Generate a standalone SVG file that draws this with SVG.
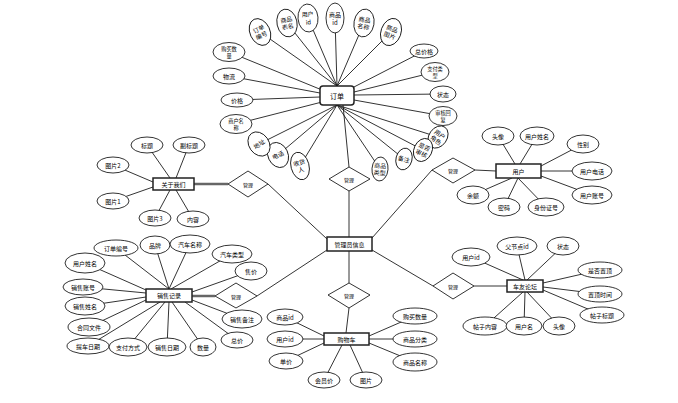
<svg xmlns="http://www.w3.org/2000/svg" width="678" height="403" viewBox="0 0 678 403">
<style>
.e{fill:#fff;stroke:#000;stroke-width:0.8}
.r{fill:#fff;stroke:#222;stroke-width:1.5}
.d{fill:#fff;stroke:#000;stroke-width:0.8}
.l{stroke:#000;stroke-width:0.8;fill:none}
.k{stroke:#666;stroke-width:2.5;fill:none}
.t{font-family:"Noto Sans CJK SC","Noto Sans",sans-serif;font-size:6px;text-anchor:middle;dominant-baseline:central;fill:#000}
.s{font-size:5.2px}
.b{font-size:7px}
</style>
<rect width="678" height="403" fill="#fff"/>
<g id="connectors">
<line class="l" x1="260" y1="32" x2="337" y2="86"/>
<line class="l" x1="287" y1="23" x2="337" y2="86"/>
<line class="l" x1="308" y1="18" x2="337" y2="86"/>
<line class="l" x1="335" y1="18" x2="337" y2="86"/>
<line class="l" x1="364" y1="23" x2="337" y2="86"/>
<line class="l" x1="391" y1="32" x2="337" y2="86"/>
<line class="l" x1="229" y1="52" x2="322" y2="90"/>
<line class="l" x1="229" y1="76" x2="320" y2="93"/>
<line class="l" x1="237" y1="100" x2="320" y2="97"/>
<line class="l" x1="236" y1="124" x2="322" y2="102"/>
<line class="l" x1="424" y1="51" x2="352" y2="88"/>
<line class="l" x1="435" y1="72" x2="354" y2="92"/>
<line class="l" x1="442" y1="94" x2="354" y2="95"/>
<line class="l" x1="443" y1="116" x2="354" y2="100"/>
<line class="l" x1="259" y1="144" x2="337" y2="105"/>
<line class="l" x1="278" y1="155" x2="337" y2="105"/>
<line class="l" x1="300" y1="166" x2="337" y2="105"/>
<line class="l" x1="380" y1="169" x2="337" y2="105"/>
<line class="l" x1="404" y1="159" x2="337" y2="105"/>
<line class="l" x1="423" y1="150" x2="337" y2="105"/>
<line class="l" x1="438" y1="137" x2="337" y2="105"/>
<line class="l" x1="343" y1="105" x2="349" y2="167"/>
<line class="l" x1="147" y1="145" x2="170" y2="178"/>
<line class="l" x1="189" y1="145" x2="176" y2="178"/>
<line class="l" x1="113" y1="165" x2="153" y2="182"/>
<line class="l" x1="113" y1="201" x2="153" y2="187"/>
<line class="l" x1="155" y1="218" x2="170" y2="190"/>
<line class="l" x1="193" y1="219" x2="176" y2="190"/>
<line class="k" x1="194" y1="184" x2="228" y2="184"/>
<line class="l" x1="498" y1="136" x2="515" y2="164"/>
<line class="l" x1="537" y1="136" x2="520" y2="164"/>
<line class="l" x1="583" y1="144" x2="541" y2="166"/>
<line class="l" x1="592" y1="171" x2="541" y2="171"/>
<line class="l" x1="592" y1="195" x2="541" y2="176"/>
<line class="l" x1="546" y1="207" x2="518" y2="178"/>
<line class="l" x1="504" y1="207" x2="518" y2="178"/>
<line class="l" x1="473" y1="195" x2="512" y2="178"/>
<line class="l" x1="475" y1="170" x2="496" y2="171"/>
<line class="l" x1="268" y1="184" x2="327" y2="239"/>
<line class="l" x1="432" y1="170" x2="372" y2="238"/>
<line class="l" x1="349" y1="191" x2="349" y2="237"/>
<line class="l" x1="349" y1="251" x2="349" y2="283"/>
<line class="l" x1="327" y1="250" x2="257" y2="296"/>
<line class="l" x1="372" y1="250" x2="433" y2="286"/>
<line class="l" x1="349" y1="308" x2="346" y2="333"/>
<line class="l" x1="285" y1="317" x2="324" y2="336"/>
<line class="l" x1="285" y1="339" x2="324" y2="339"/>
<line class="l" x1="286" y1="361" x2="324" y2="343"/>
<line class="l" x1="324" y1="380" x2="342" y2="345"/>
<line class="l" x1="366" y1="380" x2="350" y2="345"/>
<line class="l" x1="415" y1="316" x2="369" y2="336"/>
<line class="l" x1="415" y1="339" x2="369" y2="339"/>
<line class="l" x1="415" y1="362" x2="369" y2="343"/>
<line class="k" x1="192" y1="296" x2="215" y2="296"/>
<line class="l" x1="116" y1="248" x2="169" y2="289"/>
<line class="l" x1="155" y1="245" x2="169" y2="289"/>
<line class="l" x1="190" y1="244" x2="169" y2="289"/>
<line class="l" x1="232" y1="254" x2="171" y2="289"/>
<line class="l" x1="251" y1="271" x2="192" y2="292"/>
<line class="l" x1="85" y1="263" x2="146" y2="290"/>
<line class="l" x1="83" y1="287" x2="146" y2="293"/>
<line class="l" x1="85" y1="306" x2="146" y2="297"/>
<line class="l" x1="89" y1="327" x2="146" y2="300"/>
<line class="l" x1="88" y1="346" x2="160" y2="302"/>
<line class="l" x1="128" y1="347" x2="165" y2="302"/>
<line class="l" x1="167" y1="347" x2="169" y2="302"/>
<line class="l" x1="203" y1="347" x2="172" y2="302"/>
<line class="l" x1="237" y1="340" x2="185" y2="302"/>
<line class="l" x1="242" y1="319" x2="192" y2="300"/>
<line class="l" x1="474" y1="286" x2="507" y2="286"/>
<line class="l" x1="471" y1="257" x2="523" y2="280"/>
<line class="l" x1="517" y1="246" x2="525" y2="280"/>
<line class="l" x1="563" y1="246" x2="527" y2="280"/>
<line class="l" x1="600" y1="270" x2="543" y2="283"/>
<line class="l" x1="600" y1="294" x2="543" y2="287"/>
<line class="l" x1="602" y1="315" x2="543" y2="290"/>
<line class="l" x1="485" y1="326" x2="523" y2="292"/>
<line class="l" x1="524" y1="326" x2="525" y2="292"/>
<line class="l" x1="559" y1="326" x2="527" y2="292"/>
</g>

<g id="order">
<rect class="r" x="320" y="86" width="34" height="19" rx="3" stroke="#777"/>
<text class="t b" x="337" y="95.5">订单</text>
<g transform="translate(260,32) rotate(-25)"><ellipse class="e" rx="10" ry="14"/><text class="t" y="-3.5">订单</text><text class="t" y="3.5">编号</text></g>
<g transform="translate(287,23) rotate(-12)"><ellipse class="e" rx="10" ry="14"/><text class="t" y="-3.5">商品</text><text class="t" y="3.5">表名</text></g>
<g transform="translate(308,18) rotate(-5)"><ellipse class="e" rx="10" ry="14"/><text class="t" y="-4">用户</text><text class="t" y="4">id</text></g>
<g transform="translate(335,18)"><ellipse class="e" rx="9" ry="15"/><text class="t" y="-4">商品</text><text class="t" y="4">id</text></g>
<g transform="translate(364,23) rotate(10)"><ellipse class="e" rx="10" ry="14"/><text class="t" y="-3.5">商品</text><text class="t" y="3.5">名称</text></g>
<g transform="translate(391,32) rotate(20)"><ellipse class="e" rx="10" ry="14"/><text class="t" y="-3.5">商品</text><text class="t" y="3.5">图片</text></g>
<g transform="translate(424,51)"><ellipse class="e" rx="14" ry="7"/><text class="t">总价格</text></g>
<g transform="translate(435,72)"><ellipse class="e" rx="14" ry="9.5"/><text class="t s" y="-3.4">支付类</text><text class="t s" y="3.4">型</text></g>
<g transform="translate(443,94)"><ellipse class="e" rx="13" ry="8"/><text class="t">状态</text></g>
<g transform="translate(443,116)"><ellipse class="e" rx="14" ry="9.5"/><text class="t s" y="-3.4">审核回</text><text class="t s" y="3.4">复</text></g>
<g transform="translate(438,137) rotate(35)"><ellipse class="e" rx="9" ry="12"/><text class="t" y="-3.5">用户</text><text class="t" y="3.5">角色</text></g>
<g transform="translate(423,150) rotate(25)"><ellipse class="e" rx="9" ry="12"/><text class="t" y="-3.5">是否</text><text class="t" y="3.5">审核</text></g>
<g transform="translate(404,159) rotate(15)"><ellipse class="e" rx="8" ry="11"/><text class="t">备注</text></g>
<g transform="translate(380,169) rotate(5)"><ellipse class="e" rx="8" ry="12"/><text class="t" y="-3.5">商品</text><text class="t" y="3.5">类型</text></g>
<g transform="translate(300,166) rotate(-15)"><ellipse class="e" rx="9" ry="14"/><text class="t" y="-3.5">收货</text><text class="t" y="3.5">人</text></g>
<g transform="translate(278,155) rotate(-25)"><ellipse class="e" rx="10" ry="13"/><text class="t">电话</text></g>
<g transform="translate(259,144) rotate(-35)"><ellipse class="e" rx="10" ry="13"/><text class="t">地址</text></g>
<g transform="translate(236,124)"><ellipse class="e" rx="16" ry="9.5"/><text class="t s" y="-3.4">商户名</text><text class="t s" y="3.4">称</text></g>
<g transform="translate(237,100)"><ellipse class="e" rx="16" ry="7"/><text class="t">价格</text></g>
<g transform="translate(229,76)"><ellipse class="e" rx="16" ry="8"/><text class="t">物流</text></g>
<g transform="translate(229,52)"><ellipse class="e" rx="16" ry="9.5"/><text class="t s" y="-3.4">购买数</text><text class="t s" y="3.4">量</text></g>
<polygon class="d" points="329,179 349,167 370,179 349,191"/>
<text class="t" x="349" y="179" style="font-size:5px">管理</text>
</g>

<g id="about">
<rect class="r" x="153" y="178" width="41" height="12"/>
<text class="t" x="173.5" y="184">关于我们</text>
<g transform="translate(147,145)"><ellipse class="e" rx="16" ry="8"/><text class="t">标题</text></g>
<g transform="translate(189,145)"><ellipse class="e" rx="16" ry="8"/><text class="t">副标题</text></g>
<g transform="translate(113,165)"><ellipse class="e" rx="16" ry="8"/><text class="t">图片2</text></g>
<g transform="translate(113,201)"><ellipse class="e" rx="16" ry="8"/><text class="t">图片1</text></g>
<g transform="translate(155,218)"><ellipse class="e" rx="16" ry="8"/><text class="t">图片3</text></g>
<g transform="translate(193,219)"><ellipse class="e" rx="16" ry="8"/><text class="t">内容</text></g>
<polygon class="d" points="228,184 248,171 268,184 248,197"/>
<text class="t" x="248" y="184" style="font-size:5px">管理</text>
</g>

<g id="user">
<rect class="r" x="496" y="164" width="45" height="14"/>
<text class="t" x="518.5" y="171">用户</text>
<g transform="translate(498,136)"><ellipse class="e" rx="16" ry="9"/><text class="t">头像</text></g>
<g transform="translate(537,136)"><ellipse class="e" rx="17" ry="9"/><text class="t">用户姓名</text></g>
<g transform="translate(583,144)"><ellipse class="e" rx="16" ry="9"/><text class="t">性别</text></g>
<g transform="translate(592,171)"><ellipse class="e" rx="20" ry="9"/><text class="t">用户电话</text></g>
<g transform="translate(592,195)"><ellipse class="e" rx="20" ry="9"/><text class="t">用户账号</text></g>
<g transform="translate(546,207)"><ellipse class="e" rx="18" ry="9"/><text class="t">身份证号</text></g>
<g transform="translate(504,207)"><ellipse class="e" rx="16" ry="9"/><text class="t">密码</text></g>
<g transform="translate(473,195)"><ellipse class="e" rx="16" ry="9"/><text class="t">余额</text></g>
<polygon class="d" points="432,170 453,158 475,170 453,183"/>
<text class="t" x="453" y="170" style="font-size:5px">管理</text>
</g>

<g id="admin">
<rect class="r" x="327" y="237" width="45" height="14"/>
<text class="t" x="349.5" y="244">管理员信息</text>
</g>

<g id="cart">
<polygon class="d" points="328,295 349,283 370,295 349,308"/>
<text class="t" x="349" y="295" style="font-size:5px">管理</text>
<rect class="r" x="324" y="333" width="45" height="12"/>
<text class="t" x="346.5" y="339">购物车</text>
<g transform="translate(285,317)"><ellipse class="e" rx="18" ry="8"/><text class="t">商品id</text></g>
<g transform="translate(285,339)"><ellipse class="e" rx="18" ry="8"/><text class="t">用户id</text></g>
<g transform="translate(286,361)"><ellipse class="e" rx="17" ry="8"/><text class="t">单价</text></g>
<g transform="translate(324,380)"><ellipse class="e" rx="16" ry="8"/><text class="t">会员价</text></g>
<g transform="translate(366,380)"><ellipse class="e" rx="16" ry="8"/><text class="t">图片</text></g>
<g transform="translate(415,316)"><ellipse class="e" rx="22" ry="8"/><text class="t">购买数量</text></g>
<g transform="translate(415,339)"><ellipse class="e" rx="22" ry="8"/><text class="t">商品分类</text></g>
<g transform="translate(415,362)"><ellipse class="e" rx="22" ry="9"/><text class="t">商品名称</text></g>
</g>

<g id="sales">
<rect class="r" x="146" y="289" width="46" height="13"/>
<text class="t" x="169" y="295.5">销售记录</text>
<polygon class="d" points="215,296 236,283 257,296 236,308"/>
<text class="t" x="236" y="296" style="font-size:5px">管理</text>
<g transform="translate(116,248)"><ellipse class="e" rx="22" ry="8"/><text class="t">订单编号</text></g>
<g transform="translate(155,245)"><ellipse class="e" rx="15" ry="9"/><text class="t">品牌</text></g>
<g transform="translate(190,244)"><ellipse class="e" rx="20" ry="9"/><text class="t">汽车名称</text></g>
<g transform="translate(232,254)"><ellipse class="e" rx="20" ry="9"/><text class="t">汽车类型</text></g>
<g transform="translate(251,271)"><ellipse class="e" rx="16" ry="9"/><text class="t">售价</text></g>
<g transform="translate(85,263)"><ellipse class="e" rx="20" ry="10"/><text class="t">用户姓名</text></g>
<g transform="translate(83,287)"><ellipse class="e" rx="20" ry="8"/><text class="t">销售账号</text></g>
<g transform="translate(85,306)"><ellipse class="e" rx="20" ry="9"/><text class="t">销售姓名</text></g>
<g transform="translate(89,327)"><ellipse class="e" rx="21" ry="9"/><text class="t">合同文件</text></g>
<g transform="translate(88,346)"><ellipse class="e" rx="21" ry="8"/><text class="t">提车日期</text></g>
<g transform="translate(128,347)"><ellipse class="e" rx="19" ry="9"/><text class="t">支付方式</text></g>
<g transform="translate(167,347)"><ellipse class="e" rx="19" ry="9"/><text class="t">销售日期</text></g>
<g transform="translate(203,347)"><ellipse class="e" rx="13" ry="9"/><text class="t">数量</text></g>
<g transform="translate(237,340)"><ellipse class="e" rx="16" ry="8"/><text class="t">总价</text></g>
<g transform="translate(242,319)"><ellipse class="e" rx="20" ry="9"/><text class="t">销售备注</text></g>
</g>

<g id="forum">
<rect class="r" x="507" y="280" width="36" height="12"/>
<text class="t" x="525" y="286">车友论坛</text>
<polygon class="d" points="433,286 453,273 474,286 453,299"/>
<text class="t" x="453" y="286" style="font-size:5px">管理</text>
<g transform="translate(471,257)"><ellipse class="e" rx="19" ry="9"/><text class="t">用户id</text></g>
<g transform="translate(517,246)"><ellipse class="e" rx="20" ry="9"/><text class="t">父节点id</text></g>
<g transform="translate(563,246)"><ellipse class="e" rx="16" ry="9"/><text class="t">状态</text></g>
<g transform="translate(600,270)"><ellipse class="e" rx="22" ry="8"/><text class="t">是否置顶</text></g>
<g transform="translate(600,294)"><ellipse class="e" rx="22" ry="8"/><text class="t">置顶时间</text></g>
<g transform="translate(602,315)"><ellipse class="e" rx="22" ry="8"/><text class="t">帖子标题</text></g>
<g transform="translate(485,326)"><ellipse class="e" rx="22" ry="9"/><text class="t">帖子内容</text></g>
<g transform="translate(524,326)"><ellipse class="e" rx="18" ry="9"/><text class="t">用户名</text></g>
<g transform="translate(559,326)"><ellipse class="e" rx="16" ry="9"/><text class="t">头像</text></g>
</g>
</svg>
